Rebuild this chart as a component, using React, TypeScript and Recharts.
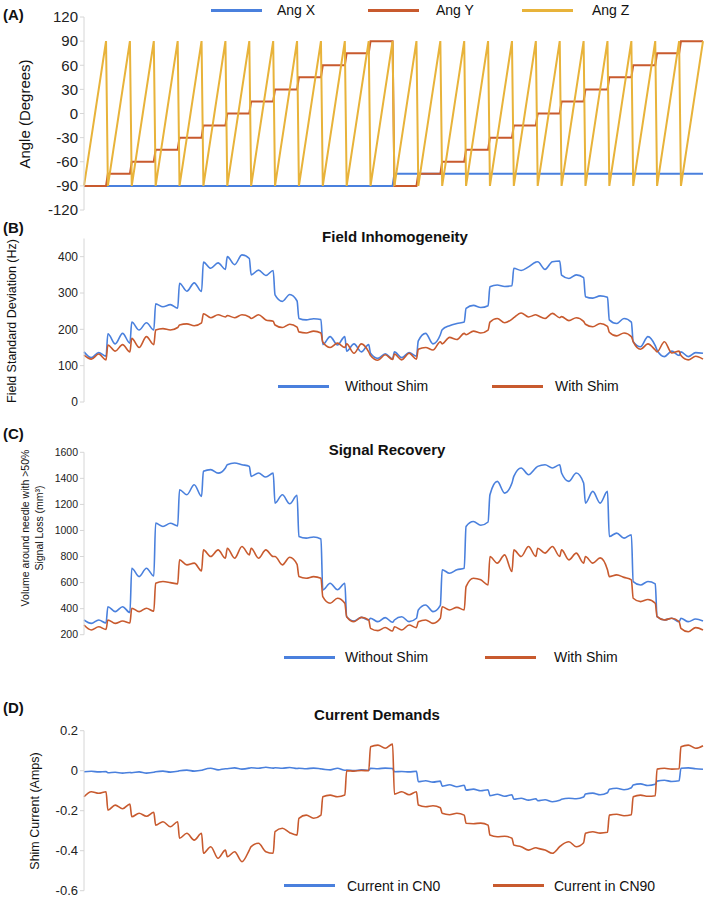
import React from 'react';
import { LineChart, Line, XAxis, YAxis, Legend } from 'recharts';

const FONT = '"Liberation Sans", Arial, Helvetica, sans-serif';
const BLUE = '#4a80dd';
const ORANGE = '#c85a2e';
const YELLOW = '#e8b33a';
const AXIS_GREY = '#d6d6d6';

// (A) needle orientation sweep
const angXLevels = [-90, -75];
const angSteps = [-90, -75, -60, -45, -30, -15, 0, 15, 30, 45, 60, 75, 90];
const angleTicks = [-120, -90, -60, -30, 0, 30, 60, 90, 120];

// (B)-(D): 4 readings per Y-angle step, 26 steps
const sampleOffsets = [0, 4, 8, 12];

const fieldNoShim = [
  138, 122, 136, 126, 188, 160, 189, 162, 220, 198, 218, 198, 270, 262, 268, 258,
  327, 305, 328, 304, 385, 368, 383, 365, 400, 378, 405, 395, 350, 363, 348, 362,
  295, 277, 296, 278, 230, 226, 229, 227, 158, 180, 157, 180, 140, 160, 138, 158,
  134, 120, 133, 118, 138, 122, 136, 126, 168, 189, 160, 185, 199, 210, 216, 220,
  258, 266, 260, 265, 317, 322, 318, 320, 368, 362, 372, 385, 386, 365, 386, 388,
  349, 340, 350, 342, 290, 286, 292, 288, 226, 216, 230, 220, 166, 152, 180, 155,
  143, 125, 140, 128, 138, 125, 136, 134,
];
const fieldShim = [
  129, 118, 132, 116, 157, 140, 158, 138, 175, 150, 180, 158, 198, 202, 198, 205,
  212, 215, 210, 218, 243, 232, 240, 234, 238, 232, 240, 234, 230, 240, 226, 222,
  212, 205, 214, 206, 193, 190, 195, 190, 165, 150, 162, 150, 160, 134, 160, 138,
  128, 115, 130, 117, 132, 116, 134, 118, 145, 150, 143, 166, 160, 178, 172, 189,
  185, 195, 190, 198, 220, 230, 218, 228, 232, 245, 234, 240, 238, 230, 244, 232,
  235, 224, 232, 222, 214, 207, 216, 208, 192, 182, 190, 180, 166, 145, 160, 143,
  138, 166, 135, 140, 128, 116, 126, 118,
];
const fieldTicks = [0, 100, 200, 300, 400];

const lossNoShim = [
  313, 287, 313, 290, 415, 377, 415, 370, 710, 646, 710, 650, 1056, 1031, 1056, 1035,
  1313, 1274, 1351, 1262, 1454, 1467, 1440, 1480, 1505, 1518, 1505, 1492, 1415, 1441, 1410, 1440,
  1210, 1274, 1205, 1270, 954, 941, 950, 935, 543, 595, 545, 595, 338, 305, 333, 313,
  326, 300, 331, 295, 313, 338, 300, 326, 390, 428, 377, 425, 698, 672, 698, 710,
  1031, 1069, 1040, 1065, 1274, 1377, 1287, 1364, 1415, 1480, 1428, 1480, 1492, 1505, 1480, 1505,
  1441, 1377, 1441, 1364, 1210, 1300, 1210, 1300, 954, 980, 941, 967, 608, 582, 608, 590,
  338, 313, 326, 300, 326, 300, 320, 305,
];
const lossShim = [
  274, 236, 261, 240, 313, 287, 305, 290, 403, 377, 403, 380, 595, 608, 600, 590,
  774, 736, 749, 690, 851, 800, 851, 787, 864, 787, 877, 813, 864, 787, 851, 800,
  800, 736, 795, 740, 646, 633, 646, 633, 492, 441, 480, 441, 338, 300, 333, 313,
  249, 231, 255, 228, 261, 236, 274, 254, 300, 313, 287, 326, 415, 390, 410, 390,
  569, 633, 621, 582, 800, 749, 813, 685, 851, 800, 877, 800, 864, 826, 877, 800,
  851, 774, 826, 749, 800, 749, 790, 698, 646, 659, 640, 621, 480, 454, 470, 441,
  338, 313, 326, 300, 249, 223, 254, 236,
];
const lossTicks = [200, 400, 600, 800, 1000, 1200, 1400, 1600];

const currentCN0 = [
  -0.005, -0.003, -0.006, -0.004, -0.01, -0.008, -0.012, -0.009, -0.01, -0.006, -0.012, -0.008,
  -0.005, -0.002, -0.007, -0.003, 0, 0.003, -0.002, 0.002, 0.005, 0.012, 0.004, 0.01,
  0.01, 0.014, 0.008, 0.013, 0.015, 0.012, 0.017, 0.013, 0.015, 0.012, 0.016, 0.011,
  0.012, 0.01, 0.013, 0.009, 0.008, 0.004, 0.012, 0.002, 0.003, 0.001, 0.004, 0.002,
  0.012, 0.01, 0.013, 0.011, -0.005, -0.004, -0.006, -0.003, -0.055, -0.05, -0.057, -0.052,
  -0.077, -0.07, -0.08, -0.073, -0.097, -0.092, -0.1, -0.095, -0.125, -0.118, -0.128, -0.12,
  -0.143, -0.138, -0.147, -0.14, -0.15, -0.145, -0.155, -0.148, -0.143, -0.138, -0.14, -0.132,
  -0.117, -0.112, -0.12, -0.11, -0.093, -0.088, -0.095, -0.085, -0.072, -0.066, -0.074, -0.068,
  -0.052, -0.048, -0.054, -0.05, 0.012, 0.014, 0.01, 0.007,
];
const currentCN90 = [
  -0.13, -0.105, -0.113, -0.105, -0.197, -0.172, -0.19, -0.167, -0.23, -0.213, -0.228, -0.208,
  -0.272, -0.255, -0.28, -0.255, -0.338, -0.313, -0.347, -0.313, -0.413, -0.38, -0.438, -0.397,
  -0.43, -0.405, -0.455, -0.397, -0.38, -0.363, -0.405, -0.413, -0.305, -0.288, -0.31, -0.322,
  -0.238, -0.222, -0.238, -0.222, -0.13, -0.122, -0.13, -0.122, 0, -0.002, 0.001, 0,
  0.12, 0.128, 0.112, 0.133, -0.117, -0.105, -0.12, -0.105, -0.172, -0.18, -0.175, -0.185,
  -0.213, -0.22, -0.213, -0.222, -0.263, -0.265, -0.262, -0.272, -0.322, -0.33, -0.328, -0.338,
  -0.372, -0.38, -0.397, -0.385, -0.388, -0.397, -0.413, -0.38, -0.372, -0.355, -0.38, -0.36,
  -0.313, -0.305, -0.312, -0.308, -0.222, -0.218, -0.225, -0.22, -0.13, -0.122, -0.128, -0.125,
  0.008, 0.012, 0.008, 0.01, 0.12, 0.128, 0.112, 0.125,
];
const currentTicks = [-0.6, -0.4, -0.2, 0, 0.2];

const STEP = angSteps.length;
const LAST = angXLevels.length * STEP * STEP - 1;

const angleRows = angXLevels.flatMap((ax, h) =>
  angSteps.flatMap((ay, yi) =>
    angSteps.map((az, zi) => ({ s: (h * STEP + yi) * STEP + zi, x: ax, y: ay, z: az }))
  )
);

const pairRows = (a: number[], b: number[]) =>
  a.map((v, i) => ({
    s: Math.floor(i / sampleOffsets.length) * STEP + sampleOffsets[i % sampleOffsets.length],
    a: v,
    b: b[i],
  }));

// spots: series name -> [line left, text left]
const legendContent = (spots: Record<string, number[]>) => (props: any) => (
  <div style={{ position: 'relative', width: 709, height: 20, fontFamily: FONT, fontSize: 14, color: '#111' }}>
    {(props.payload || []).map((p: any) => {
      const pos = spots[p.value];
      if (!pos) return null;
      return (
        <React.Fragment key={p.value}>
          <div style={{ position: 'absolute', left: pos[0], top: 8.5, width: 51, height: 3, background: p.color }} />
          <div style={{ position: 'absolute', left: pos[1], top: 0, lineHeight: '20px', whiteSpace: 'nowrap' }}>
            {p.value}
          </div>
        </React.Fragment>
      );
    })}
  </div>
);

const axisProps = (fontSize: number) => ({
  width: 84,
  tickSize: 4,
  tickMargin: 2,
  interval: 0 as const,
  axisLine: { stroke: AXIS_GREY },
  tickLine: { stroke: AXIS_GREY },
  tick: { fontSize, fill: '#222', fontFamily: FONT },
});

const Text = ({ x, y, bold, size, children }: any) => (
  <div
    style={{
      position: 'absolute', left: x, top: y, transform: 'translate(0, -50%)',
      fontFamily: FONT, fontSize: size, fontWeight: bold ? 700 : 400, color: '#111', whiteSpace: 'nowrap',
    }}
  >
    {children}
  </div>
);

const Centered = ({ x, y, size, rotate, children }: any) => (
  <div
    style={{
      position: 'absolute', left: x, top: y,
      transform: `translate(-50%, -50%)${rotate ? ' rotate(-90deg)' : ''}`,
      fontFamily: FONT, fontSize: size, fontWeight: rotate ? 400 : 700, color: '#111',
      whiteSpace: 'nowrap', textAlign: 'center', lineHeight: '14px',
    }}
  >
    {children}
  </div>
);

const PairPanel = ({ top, height, margin, rows, domain, ticks, tickFont, names, legendTop, spots, fmt }: any) => (
  <div style={{ position: 'absolute', left: 0, top }}>
    <LineChart width={709} height={height} data={rows} margin={margin}>
      <XAxis type="number" dataKey="s" domain={[0, LAST]} hide />
      <YAxis {...axisProps(tickFont)} domain={domain} ticks={ticks} tickFormatter={fmt} allowDataOverflow />
      <Legend
        layout="horizontal"
        verticalAlign="middle"
        align="center"
        wrapperStyle={{ left: 0, top: legendTop, width: 709, height: 20 }}
        content={legendContent(spots)}
      />
      <Line type="monotone" dataKey="a" name={names[0]} stroke={BLUE} strokeWidth={1.6} dot={false} activeDot={false} isAnimationActive={false} />
      <Line type="monotone" dataKey="b" name={names[1]} stroke={ORANGE} strokeWidth={1.6} dot={false} activeDot={false} isAnimationActive={false} />
    </LineChart>
  </div>
);

export default function App() {
  return (
    <div style={{ position: 'absolute', left: 0, top: 0, width: 709, height: 899, background: '#fff', overflow: 'hidden' }}>
      <div style={{ position: 'absolute', left: 0, top: 0 }}>
        <LineChart width={709} height={225} data={angleRows} margin={{ top: 17, right: 6, bottom: 15, left: 0 }}>
          <XAxis type="number" dataKey="s" domain={[0, LAST]} hide />
          <YAxis {...axisProps(15)} domain={[-120, 120]} ticks={angleTicks} />
          <Legend
            layout="horizontal"
            verticalAlign="middle"
            align="center"
            wrapperStyle={{ left: 0, top: 0, width: 709, height: 20 }}
            content={legendContent({ 'Ang X': [211, 277], 'Ang Y': [368, 436], 'Ang Z': [522, 592] })}
          />
          <Line type="linear" dataKey="x" name="Ang X" stroke={BLUE} strokeWidth={2} dot={false} activeDot={false} isAnimationActive={false} />
          <Line type="linear" dataKey="y" name="Ang Y" stroke={ORANGE} strokeWidth={2} dot={false} activeDot={false} isAnimationActive={false} />
          <Line type="linear" dataKey="z" name="Ang Z" stroke={YELLOW} strokeWidth={2} dot={false} activeDot={false} isAnimationActive={false} />
        </LineChart>
      </div>

      <PairPanel
        top={215} height={200} margin={{ top: 23.5, right: 6, bottom: 13, left: 0 }}
        rows={pairRows(fieldNoShim, fieldShim)} domain={[0, 450]} ticks={fieldTicks} tickFont={12}
        names={['Without Shim', 'With Shim']} legendTop={161}
        spots={{ 'Without Shim': [278, 345], 'With Shim': [492, 555] }}
      />
      <PairPanel
        top={415} height={265} margin={{ top: 37.3, right: 6, bottom: 45.3, left: 0 }}
        rows={pairRows(lossNoShim, lossShim)} domain={[200, 1600]} ticks={lossTicks} tickFont={10.5}
        names={['Without Shim', 'With Shim']} legendTop={232}
        spots={{ 'Without Shim': [284, 345], 'With Shim': [485, 554] }}
      />
      <PairPanel
        top={680} height={219} margin={{ top: 50.7, right: 6, bottom: 8.3, left: 0 }}
        rows={pairRows(currentCN0, currentCN90)} domain={[-0.6, 0.2]} ticks={currentTicks} tickFont={13}
        fmt={(v: number) => (v === 0 ? '0' : v.toFixed(1))}
        names={['Current in CN0', 'Current in CN90']} legendTop={195.7}
        spots={{ 'Current in CN0': [284, 347], 'Current in CN90': [493, 554] }}
      />

      <Text x={3} y={14} bold size={15}>(A)</Text>
      <Text x={3} y={227} bold size={15}>(B)</Text>
      <Text x={3} y={433} bold size={15}>(C)</Text>
      <Text x={3} y={707} bold size={15}>(D)</Text>

      <Centered x={395} y={237} size={15}>Field Inhomogeneity</Centered>
      <Centered x={387} y={450} size={15}>Signal Recovery</Centered>
      <Centered x={377} y={715} size={15}>Current Demands</Centered>

      <Centered x={25} y={113.5} size={15} rotate>Angle (Degrees)</Centered>
      <Centered x={12} y={321} size={12.5} rotate>Field Standard Deviation (Hz)</Centered>
      <Centered x={32} y={528} size={10.5} rotate>
        Volume around needle with &gt;50%
        <br />
        Signal Loss (mm³)
      </Centered>
      <Centered x={35} y={811} size={12.5} rotate>Shim Current (Amps)</Centered>
    </div>
  );
}
